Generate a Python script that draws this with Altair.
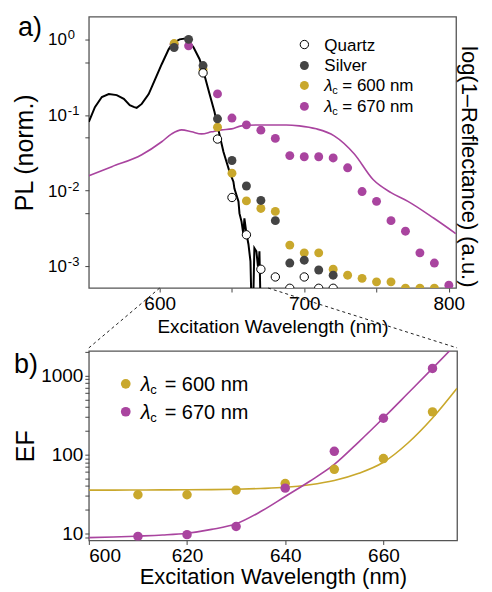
import altair as alt
import pandas as pd

FONT = "Liberation Sans"
GOLD = "#c9a82c"
PURPLE = "#a9449f"
SILVER = "#444444"

# ---------------- panel a) data ----------------
pl_wl = [551.0, 555.2, 560.0, 564.8, 570.3, 575.2, 579.3, 582.0, 584.1, 587.6, 592.4, 596.6,
         601.4, 606.2, 609.0, 613.8, 618.6, 623.4, 627.6, 631.0, 634.5, 637.9, 641.4,
         644.1, 646.2, 648.3, 651.0, 651.7, 654.5, 655.2, 656.6, 657.9, 658.6, 660.0,
         661.4, 662.8, 664.1, 665.5, 666.9, 668.3, 669.0, 670.3]
pl_val = [0.081, 0.127, 0.173, 0.189, 0.183, 0.163, 0.135, 0.128, 0.124, 0.140, 0.189, 0.289,
          0.469, 0.738, 0.886, 1.0, 1.03, 0.785, 0.546, 0.336, 0.189, 0.110, 0.0546,
          0.0326, 0.0241, 0.0178, 0.0131, 0.0106, 0.00716, 0.00498, 0.00391, 0.00264, 0.00428, 0.00272,
          0.00195, 0.00116, 0.0001, 0.00173, 0.00157, 0.00086, 0.00157, 0.0001]

refl_wl = [551.0, 566.9, 587.6, 601.4, 608.3, 615.2, 622.1, 629.0, 635.9, 642.8, 649.7, 656.6,
           666.9, 677.2, 687.6, 696.6, 708.3, 720.7, 734.5, 747.6, 760.0, 771.7, 789.7, 804.8]
refl_val = [0.0157, 0.0207, 0.0298, 0.0442, 0.0562, 0.0635, 0.0598, 0.0562, 0.0598, 0.0635, 0.0655, 0.0717,
            0.0738, 0.0738, 0.0738, 0.0717, 0.0655, 0.0530, 0.0307, 0.0140, 0.0094, 0.0072, 0.0043, 0.0027]

quartz_wl = [630, 640, 650, 660, 670, 680, 690, 700, 710, 720]
quartz_pl = [0.36, 0.048, 0.0081, 0.0026, 0.00091, 0.00072, 0.00051, 0.00072, 0.00051, 0.00051]

silver_wl = [610, 620, 630, 640, 650, 660, 670, 680, 690, 700, 710, 720]
silver_pl = [0.78, 1.0, 0.45, 0.089, 0.025, 0.0115, 0.0074, 0.0040, 0.0011, 0.0012, 0.00089, 0.00076]

gold_wl = [610, 630, 640, 650, 660, 670, 680, 690, 700, 710, 720, 730, 740, 750, 760, 770, 780, 790]
gold_pl = [0.88, 0.40, 0.069, 0.017, 0.0073, 0.0058, 0.0053, 0.0019, 0.0015, 0.0015, 0.00091,
           0.00076, 0.00069, 0.00062, 0.00062, 0.00051, 0.00051, 0.00051]

purple_wl = [610, 620, 640, 650, 660, 670, 680, 690, 700, 710, 720, 730, 740, 750, 760, 770, 780, 790, 800]
purple_pl = [0.86, 0.82, 0.19, 0.091, 0.074, 0.063, 0.049, 0.029, 0.028, 0.028, 0.027, 0.020,
             0.0097, 0.0072, 0.0040, 0.0029, 0.0015, 0.0011, 0.00056]

top_decades = [1, 0.1, 0.01, 0.001]
top_exps = ["0", "-1", "-2", "-3"]
top_yticks = [0.001, 0.005, 0.01, 0.05, 0.1, 0.5, 1]
top_xticks = [600, 650, 700, 750, 800]
zoom_range = [600, 675]

# ---------------- panel b) data ----------------
ef_wl = [610, 620, 630, 640, 650, 660, 670]
ef_600 = [31, 31, 35.5, 43, 65, 89, 347]
ef_670 = [9.2, 9.7, 12.3, 37.6, 110, 288, 1230]

fit_wl = [600, 605, 610, 615, 620, 625, 630, 635, 640, 645, 650, 655, 660, 665, 670, 675]
fit_600 = [35.5, 35.5, 35.6, 35.7, 35.8, 36.0, 36.4, 37.2, 38.5, 41.5, 47, 58, 80, 140, 290, 690]
fit_670 = [8.9, 9.05, 9.3, 9.6, 10.1, 11.3, 13.3, 19.0, 29.5, 46, 75, 145, 290, 596, 1230, 2570]

bot_xticks = [600, 620, 640, 660]
bot_yticks = [9, 10, 20, 30, 40, 50, 60, 70, 80, 90, 100, 200, 300, 400, 500, 600, 700, 800, 900, 1000, 2000]

# ---------------- helpers ----------------
ONE = pd.DataFrame({"k": [0]})


def txt(x, y, s, size, italic=False, align="left", baseline="middle", dy=0):
    props = dict(text=s, fontSize=size, font=FONT, align=align, baseline=baseline, color="black")
    if italic:
        props["fontStyle"] = "italic"
    if dy:
        props["dy"] = dy
    return alt.Chart(ONE).mark_text(**props).encode(x=alt.value(x), y=alt.value(y))


def sym(x, y, size, fill, stroke=None):
    props = dict(shape="circle", filled=True, fill=fill, size=size, opacity=1)
    if stroke:
        props["stroke"] = stroke
        props["strokeWidth"] = 1
    else:
        props["strokeWidth"] = 0
    return alt.Chart(ONE).mark_point(**props).encode(x=alt.value(x), y=alt.value(y))


def lam_entry(xs, xt, y, size, sub, offs, rest, color):
    return [
        sym(xs, y, 80 if size < 18 else 95, color),
        txt(xt, y, "λ", size, italic=True, dy=1),
        txt(xt + offs[0], y, "c", sub, dy=1 + size * 0.28),
        txt(xt + offs[1], y, rest, size, dy=1),
    ]


# ---------------- panel a) ----------------
W1, H1 = 368, 272
GAP = 60
xs_top = alt.Scale(domain=[551, 805], nice=False, zero=False)
ys_top = alt.Scale(type="log", domain=[5.14e-4, 2.0], nice=False)
X1 = alt.X("wl:Q", scale=xs_top, axis=alt.Axis(
    values=top_xticks, format="d", labelExpr="datum.value % 100 == 0 ? datum.label : ''",
    title="Excitation Wavelength (nm)", titleFontSize=19, labelFontSize=19,
    tickSize=4, labelPadding=3, titlePadding=4))
Y1 = alt.Y("v:Q", scale=ys_top, axis=alt.Axis(
    values=top_yticks, labels=False, tickSize=4, title="PL (norm.)",
    titleFontSize=25, titlePadding=47))

df_refl = pd.DataFrame({"wl": refl_wl, "v": refl_val})
refl = alt.Chart(df_refl).mark_line(color=PURPLE, strokeWidth=1.6, clip=True, interpolate="monotone").encode(
    x=X1,
    y=alt.Y("v:Q", scale=alt.Scale(type="log", domain=[5.14e-4, 2.0], nice=False),
            axis=alt.Axis(orient="right", labels=False, ticks=False, title="log(1–Reflectance) (a.u.)",
                          titleFontSize=22, titlePadding=0, titleY=150)))

pl_line = alt.Chart(pd.DataFrame({"wl": pl_wl, "v": pl_val})).mark_line(
    color="black", strokeWidth=2, clip=True).encode(x=X1, y=Y1)


def dots(wl, vals, color):
    return alt.Chart(pd.DataFrame({"wl": wl, "v": vals})).mark_circle(
        size=80, opacity=1, color=color, clip=True).encode(x=X1, y=Y1)


p_purple = dots(purple_wl, purple_pl, PURPLE)
p_gold = dots(gold_wl, gold_pl, GOLD)
p_silver = dots(silver_wl, silver_pl, SILVER)
p_quartz = alt.Chart(pd.DataFrame({"wl": quartz_wl, "v": quartz_pl})).mark_point(
    shape="circle", filled=True, fill="white", stroke="black", strokeWidth=1, size=70,
    opacity=1, clip=True).encode(x=X1, y=Y1)

df_dec = pd.DataFrame({"v": top_decades, "e": top_exps})
lab10 = alt.Chart(df_dec).mark_text(text="10", fontSize=17, font=FONT, align="right",
                                    baseline="middle", dy=1, color="black").encode(x=alt.value(-22), y=Y1)
labsup = alt.Chart(df_dec).mark_text(fontSize=13, font=FONT, align="left",
                                     baseline="middle", dy=-4, color="black").encode(
    x=alt.value(-21), y=Y1, text="e:N")

leg_a = [
    sym(216, 28, 70, "white", "black"), txt(236, 28, "Quartz", 17, dy=1),
    sym(216, 49, 80, SILVER), txt(236, 49, "Silver", 17, dy=1),
] + lam_entry(216, 236, 69, 17, 11, (8, 18), "= 600 nm", GOLD) \
  + lam_entry(216, 236, 90, 17, 11, (8, 18), "= 670 nm", PURPLE)


def zoom_rule(wl, x2):
    return alt.Chart(pd.DataFrame({"wl": [wl]})).mark_rule(
        strokeDash=[3, 3], color="#222", strokeWidth=1).encode(
        x=X1, x2=alt.value(x2), y=alt.value(H1), y2=alt.value(H1 + GAP))


rules = [zoom_rule(zoom_range[0], 0), zoom_rule(zoom_range[1], W1 + 1)]
label_a = txt(-71, -1.5, "a)", 27, baseline="top")

main_a = alt.layer(pl_line, p_purple, p_gold, p_silver, p_quartz, lab10, labsup,
                   *leg_a, label_a, *rules)
top = alt.layer(refl, main_a).resolve_scale(y="independent").properties(width=W1, height=H1)

# ---------------- panel b) ----------------
W2, H2 = 369, 190
xs_bot = alt.Scale(domain=zoom_range, nice=False, zero=False)
ys_bot = alt.Scale(type="log", domain=[8.18, 2050], nice=False)
X2 = alt.X("wl:Q", scale=xs_bot, axis=alt.Axis(
    values=bot_xticks, format="d", title="Excitation Wavelength (nm)", titleFontSize=22,
    labelFontSize=19, tickSize=4, labelPadding=2, titlePadding=1))
Y2 = alt.Y("v:Q", scale=ys_bot, axis=alt.Axis(
    values=bot_yticks, format="d",
    labelExpr="(datum.value == 10 || datum.value == 100 || datum.value == 1000) ? datum.label : ''",
    title="EF", titleFontSize=25, titlePadding=2, tickSize=4, labelFontSize=19, labelPadding=2))

f600 = alt.Chart(pd.DataFrame({"wl": fit_wl, "v": fit_600})).mark_line(
    color=GOLD, strokeWidth=1.6, clip=True, interpolate="monotone").encode(x=X2, y=Y2)
f670 = alt.Chart(pd.DataFrame({"wl": fit_wl, "v": fit_670})).mark_line(
    color=PURPLE, strokeWidth=1.6, clip=True, interpolate="monotone").encode(x=X2, y=Y2)
e600 = alt.Chart(pd.DataFrame({"wl": ef_wl, "v": ef_600})).mark_circle(
    size=90, opacity=1, color=GOLD, clip=True).encode(x=X2, y=Y2)
e670 = alt.Chart(pd.DataFrame({"wl": ef_wl, "v": ef_670})).mark_circle(
    size=90, opacity=1, color=PURPLE, clip=True).encode(x=X2, y=Y2)

leg_b = lam_entry(37, 52, 33, 20, 13, (9.5, 24), "= 600 nm", GOLD) \
    + lam_entry(37, 52, 61, 20, 13, (9.5, 24), "= 670 nm", PURPLE)
label_b = txt(-75, 1.5, "b)", 27, baseline="top")

bottom = alt.layer(f600, f670, e600, e670, *leg_b, label_b).properties(width=W2, height=H2)

chart = alt.vconcat(top, bottom, spacing=0).properties(
    padding={"left": 3, "top": 4, "right": 4, "bottom": 0}
).configure_view(stroke="#555", strokeWidth=1.3).configure_axis(
    labelFont=FONT, titleFont=FONT, labelColor="black", titleColor="black",
    tickColor="#444", domain=False, grid=False, titleFontWeight="normal")

chart.save("out.html", embed_options={"renderer": "svg", "actions": False})
